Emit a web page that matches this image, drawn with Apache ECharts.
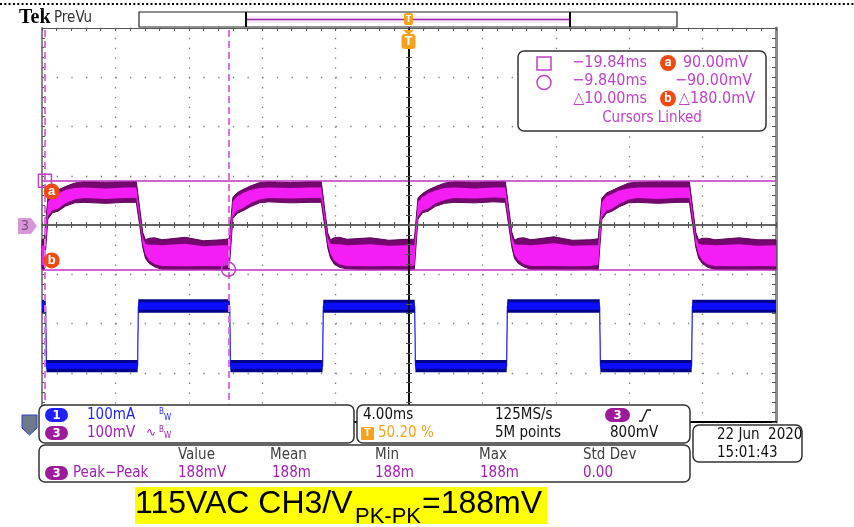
<!DOCTYPE html>
<html>
<head>
<meta charset="UTF-8" />
<title>115VAC CH3 ripple</title>
<script src="https://cdn.jsdelivr.net/npm/echarts@6/dist/echarts.min.js"></script>
<style>
  html, body { margin: 0; padding: 0; background: #fff; }
  #main { width: 854px; height: 527px; }
</style>
</head>
<body>
<div id="main"></div>
<script>
// time axis: 4 ms/div, 10 div
const timeMin = -20
const timeMax = 20

// CH3 (mV) envelope: outer = dark edge of the band, inner = bright core
const ch3Time = [
  -20,
  -19.88, -19.68, -19.43, -19.13, -18.73, -18.23, -17.73, -16.5, -15.5,
  -14.86, -14.66, -14.51, -14.36, -14.16, -13.86, -13.46, -12.2, -11.2, -10.2,
  -9.8, -9.6, -9.35, -9.05, -8.65, -8.15, -7.65, -6.45, -5.45,
  -4.78, -4.58, -4.43, -4.28, -4.08, -3.78, -3.38, -2.1, -1.1, -0.1,
  0.29, 0.49, 0.74, 1.04, 1.44, 1.94, 2.44, 3.6, 4.6,
  5.25, 5.45, 5.6, 5.75, 5.95, 6.25, 6.65, 7.9, 8.9, 9.9,
  10.31, 10.51, 10.76, 11.06, 11.46, 11.96, 12.46, 13.6, 14.6,
  15.28, 15.48, 15.63, 15.78, 15.98, 16.28, 16.68, 18.0, 19.0, 20.0
]
const ch3OuterHi = [
  -30,
  -28, 55, 65, 71, 78, 85, 88, 87, 88,
  88, 30, -15, -30, -27, -26, -30, -25, -32, -30,
  -28, 56, 66, 72, 79, 86, 88, 86, 88,
  88, 28, -16, -30, -26, -25, -29, -26, -31, -29,
  -29, 55, 64, 71, 78, 85, 88, 87, 88,
  88, 30, -14, -31, -27, -26, -30, -24, -31, -30,
  -28, 54, 65, 70, 77, 85, 87, 88, 88,
  88, 29, -15, -30, -27, -27, -30, -26, -30, -30
]
const ch3InnerHi = [
  -42,
  -41, 47, 58, 64, 71, 75, 76, 74, 76,
  76, 20, -25, -38, -40, -40, -41, -38, -43, -41,
  -41, 48, 58, 65, 71, 75, 76, 75, 76,
  76, 19, -26, -38, -39, -39, -41, -39, -42, -41,
  -41, 47, 57, 64, 70, 75, 76, 74, 76,
  76, 20, -24, -39, -40, -40, -41, -37, -42, -41,
  -41, 46, 58, 63, 70, 74, 76, 76, 76,
  76, 20, -25, -38, -40, -40, -41, -39, -42, -41
]
const ch3InnerLo = [
  -82,
  -81, 18, 30, 33, 44, 52, 55, 53, 55,
  55, 5, -38, -60, -72, -79, -83, -84, -83, -84,
  -81, 19, 30, 34, 44, 52, 55, 54, 55,
  55, 4, -39, -59, -72, -80, -83, -84, -83, -84,
  -82, 18, 30, 33, 44, 51, 55, 54, 56,
  55, 5, -37, -60, -71, -79, -83, -83, -84, -83,
  -81, 17, 29, 33, 43, 52, 55, 53, 55,
  55, 6, -38, -59, -72, -80, -83, -84, -83, -84
]
const ch3OuterLo = [
  -90,
  -91, 12, 25, 28, 38, 45, 46, 44, 46,
  46, -5, -45, -68, -78, -85, -90, -91, -90, -91,
  -91, 13, 24, 29, 37, 45, 47, 45, 46,
  46, -6, -46, -67, -79, -86, -89, -91, -90, -91,
  -90, 12, 25, 28, 38, 44, 46, 45, 47,
  46, -5, -44, -68, -78, -85, -90, -90, -91, -90,
  -91, 11, 24, 28, 37, 45, 46, 44, 46,
  46, -4, -45, -67, -78, -86, -90, -91, -90, -91
]

// CH1 (mA) square wave, band edges and the thin trace through the edges
const ch1Time = [-20, -19.8, -19.76, -14.79, -14.75, -9.77, -9.73, -4.71, -4.67, 0.31, 0.35, 5.32, 5.36, 10.39, 10.43, 15.4, 15.44, 20]
const ch1OuterHi = [248, 248, 126, 126, 249, 249, 126, 126, 248, 248, 126, 126, 249, 249, 126, 126, 248, 248]
const ch1InnerHi = [242, 242, 120, 120, 243, 243, 120, 120, 242, 242, 120, 120, 243, 243, 120, 120, 242, 242]
const ch1InnerLo = [228, 228, 108, 108, 228, 228, 108, 108, 228, 228, 108, 108, 228, 228, 108, 108, 228, 228]
const ch1OuterLo = [222, 222, 101, 101, 222, 222, 101, 101, 222, 222, 101, 101, 222, 222, 101, 101, 222, 222]
const ch1Trace = [235, 235, 114, 114, 235, 235, 114, 114, 235, 235, 114, 114, 235, 235, 114, 114, 235, 235]

// cursors
const cursorTimes = [-19.84, -9.84]
const cursorLevels = [90, -90]

const UI = '"Liberation Sans Narrow", "DejaVu Sans Condensed", Roboto, "DejaVu Sans", sans-serif'
const CAP = '"Liberation Sans", Arial, sans-serif'
const PURPLE = '#c040c8'

function bandPoints(api, ts, hi, lo) {
  let pts = []
  for (let i = 0; i < ts.length; i++) pts.push(api.coord([ts[i], hi[i]]))
  for (let i = ts.length - 1; i >= 0; i--) pts.push(api.coord([ts[i], lo[i]]))
  return pts
}

function txt(x, y, text, color, size, align, weight, family) {
  return {
    type: 'text', x: x, y: y, z: 120, silent: true,
    style: {
      text: text, fill: color,
      font: (weight || 'normal') + ' ' + size + 'px ' + (family || UI),
      textAlign: align || 'left', textVerticalAlign: 'middle'
    }
  }
}
function box(x, y, w, h) {
  return {
    type: 'rect', z: 110, silent: true,
    shape: { x: x, y: y, width: w, height: h, r: 6 },
    style: { fill: '#fff', stroke: '#333', lineWidth: 1.5 }
  }
}
function pill(x, y, w, h, label, color) {
  return [
    { type: 'rect', z: 115, silent: true, shape: { x: x, y: y, width: w, height: h, r: h / 2 }, style: { fill: color } },
    txt(x + w / 2, y + h / 2 + 0.5, label, '#fff', 13, 'center', 'bold')
  ]
}
function badge(cx, cy, label) {
  return [
    { type: 'circle', z: 115, silent: true, shape: { cx: cx, cy: cy, r: 8 }, style: { fill: '#f04a12' } },
    txt(cx, cy, label, '#fff', 13, 'center', 'bold', 'Roboto, sans-serif')
  ]
}

let graphics = [
  // dotted line at the very top
  { type: 'line', z: 100, silent: true, shape: { x1: 0, y1: 4, x2: 854, y2: 4 }, style: { stroke: '#000', lineWidth: 2, lineDash: [2, 2.3] } },
  txt(19, 18, 'Tek', '#000', 20, 'left', 'bold', '"Liberation Serif", "DejaVu Serif", serif'),
  txt(54, 18, 'PreVu', '#333', 15),
  // record bar
  { type: 'rect', z: 100, silent: true, shape: { x: 139, y: 12, width: 538, height: 15 }, style: { fill: '#fff', stroke: '#222', lineWidth: 1.2 } },
  { type: 'rect', z: 101, silent: true, shape: { x: 247, y: 16, width: 322, height: 7 }, style: { fill: '#f8ecf8' } },
  { type: 'line', z: 102, silent: true, shape: { x1: 247, y1: 19.5, x2: 569, y2: 19.5 }, style: { stroke: '#9a2aa8', lineWidth: 1.5 } },
  { type: 'line', z: 102, silent: true, shape: { x1: 246, y1: 12, x2: 246, y2: 27 }, style: { stroke: '#000', lineWidth: 2 } },
  { type: 'line', z: 102, silent: true, shape: { x1: 570, y1: 12, x2: 570, y2: 27 }, style: { stroke: '#000', lineWidth: 2 } },
  // trigger position markers
  { type: 'rect', z: 103, silent: true, shape: { x: 404, y: 13, width: 9, height: 12, r: 2 }, style: { fill: '#f6a21e' } },
  txt(408.5, 19.5, 'T', '#fff', 9, 'center', 'bold', 'Roboto, sans-serif'),
  { type: 'polygon', z: 103, silent: true, shape: { points: [[403, 30], [414, 30], [408.5, 35]] }, style: { fill: '#f6a21e' } },
  { type: 'rect', z: 103, silent: true, shape: { x: 401.5, y: 34, width: 14, height: 15, r: 3 }, style: { fill: '#f6a21e' } },
  txt(408.5, 42, 'T', '#fff', 13, 'center', 'bold', 'Roboto, sans-serif'),
  // channel markers
  { type: 'polygon', z: 103, silent: true, shape: { points: [[18, 218], [31, 218], [37, 226], [31, 234], [18, 234]] }, style: { fill: '#d597d5' } },
  txt(25, 226.5, '3', '#7a4a7a', 14, 'center'),
  { type: 'polygon', z: 125, silent: true, shape: { points: [[22, 415], [37, 415], [37, 428], [29.5, 435], [22, 428]] }, style: { fill: '#6d7a8b', stroke: '#3040c0', lineWidth: 1 } },
  txt(29.5, 423, '1', '#e8ecff', 13, 'center'),

  // cursor readout
  box(518, 51, 248, 80),
  { type: 'rect', z: 115, silent: true, shape: { x: 537, y: 57, width: 14, height: 13 }, style: { fill: 'none', stroke: PURPLE, lineWidth: 1.5 } },
  { type: 'circle', z: 115, silent: true, shape: { cx: 544, cy: 82.5, r: 7 }, style: { fill: 'none', stroke: PURPLE, lineWidth: 1.5 } },
  txt(647, 63, '\u221219.84ms', PURPLE, 16, 'right'),
  txt(748, 63, '90.00mV', PURPLE, 16, 'right'),
  txt(647, 81, '\u22129.840ms', PURPLE, 16, 'right'),
  txt(752, 81, '\u221290.00mV', PURPLE, 16, 'right'),
  txt(647, 98.5, '\u25b310.00ms', PURPLE, 16, 'right'),
  txt(755, 98.5, '\u25b3180.0mV', PURPLE, 16, 'right'),
  txt(652, 118, 'Cursors Linked', PURPLE, 15, 'center'),

  // channel / timebase panels
  box(39, 405, 315, 38),
  box(357, 405, 333, 38),
  box(39, 445, 651, 37),
  box(693, 425, 109, 37),
  txt(87, 415, '100mA', '#2424ff', 15),
  txt(159, 412, 'B', '#2424ff', 8),
  txt(164, 418, 'W', '#2424ff', 8),
  txt(87, 433, '100mV', '#a020b0', 15),
  txt(146, 433, '\u223f', '#a020b0', 12, 'left', 'normal', '"DejaVu Sans", sans-serif'),
  txt(159, 430, 'B', '#a020b0', 8),
  txt(164, 436, 'W', '#a020b0', 8),
  txt(363, 415, '4.00ms', '#111', 15),
  txt(495, 415, '125MS/s', '#111', 15),
  txt(495, 433, '5M points', '#111', 15),
  txt(610, 433, '800mV', '#111', 15),
  { type: 'polyline', z: 115, silent: true, shape: { points: [[639, 421], [642, 421], [647, 410], [651, 410]] }, style: { stroke: '#111', lineWidth: 1.3, fill: 'none' } },
  { type: 'rect', z: 115, silent: true, shape: { x: 361, y: 427, width: 13, height: 13, r: 1 }, style: { fill: '#f6a21e' } },
  txt(367.5, 433.5, 'T', '#fff', 11, 'center', 'bold', 'Roboto, sans-serif'),
  txt(378, 433, '50.20 %', '#f6a21e', 15),
  // measurement
  txt(178, 455, 'Value', '#404040', 15),
  txt(270, 455, 'Mean', '#404040', 15),
  txt(375, 455, 'Min', '#404040', 15),
  txt(479, 455, 'Max', '#404040', 15),
  txt(583, 455, 'Std Dev', '#404040', 15),
  txt(73, 473, 'Peak\u2212Peak', '#a020b0', 15),
  txt(178, 473, '188mV', '#a020b0', 15),
  txt(272, 473, '188m', '#a020b0', 15),
  txt(375, 473, '188m', '#a020b0', 15),
  txt(480, 473, '188m', '#a020b0', 15),
  txt(583, 473, '0.00', '#a020b0', 15),
  // date
  txt(717, 435, '22 Jun  2020', '#111', 15),
  txt(717, 453, '15:01:43', '#111', 15),

  // caption
  { type: 'rect', z: 100, silent: true, shape: { x: 135, y: 487, width: 412, height: 37 }, style: { fill: '#ffff00' } },
  txt(135, 504, '115VAC CH3/V', '#000', 32, 'left', 'normal', CAP),
  txt(355, 517, 'PK-PK', '#000', 22, 'left', 'normal', CAP),
  txt(422, 504, '=188mV', '#000', 32, 'left', 'normal', CAP)
]
graphics = graphics
  .concat(badge(668, 63, 'a'), badge(668, 98.5, 'b'))
  .concat(pill(45, 408, 23, 14, '1', '#1f1fff'), pill(45, 426, 23, 14, '3', '#9b1b9b'))
  .concat(pill(605, 408, 25, 14, '3', '#9b1b9b'), pill(45, 466, 23, 14, '3', '#9b1b9b'))

const divAxis = { type: 'value', min: -4, max: 4, interval: 1, axisLabel: { show: false } }
const tAxis = { type: 'value', min: timeMin, max: timeMax, interval: 4, axisLabel: { show: false } }
const tick = { show: true, inside: true, length: 3, lineStyle: { color: '#555', width: 1 } }
const minor = { show: true, splitNumber: 5, length: 3, lineStyle: { color: '#555', width: 1 } }

const option = {
  animation: false,
  backgroundColor: '#fff',
  grid: { left: 42, right: 78, top: 28, bottom: 105 },
  xAxis: [
    Object.assign({}, tAxis, { // bottom border + dotted verticals
      position: 'bottom',
      axisLine: { onZero: false, lineStyle: { color: '#000', width: 2 } },
      axisTick: { show: false },
      splitLine: { show: true, lineStyle: { color: '#7a7a7a', width: 1.3, type: [1.3, 8.55] } }
    }),
    Object.assign({}, tAxis, { // centre horizontal, ticks up
      position: 'bottom', z: 10,
      axisLine: { onZero: true, onZeroAxisIndex: 0, lineStyle: { color: '#5a5a5a', width: 1.5 } },
      axisTick: tick, minorTick: minor, splitLine: { show: false }
    }),
    Object.assign({}, tAxis, { // centre horizontal, ticks down
      position: 'bottom', z: 10,
      axisLine: { onZero: true, onZeroAxisIndex: 0, lineStyle: { color: '#5a5a5a', width: 1.5 } },
      axisTick: Object.assign({}, tick, { inside: false }), minorTick: minor, splitLine: { show: false }
    }),
    Object.assign({}, tAxis, { // top border
      position: 'top',
      axisLine: { onZero: false, lineStyle: { color: '#555', width: 1 } },
      axisTick: tick, minorTick: minor, splitLine: { show: false }
    })
  ],
  yAxis: [
    Object.assign({}, divAxis, { // left border + dotted horizontals
      position: 'left',
      axisLine: { onZero: false, lineStyle: { color: '#888', width: 2 } },
      axisTick: tick, minorTick: minor,
      splitLine: { show: true, lineStyle: { color: '#7a7a7a', width: 1.3, type: [1.3, 13.38] } }
    }),
    Object.assign({}, divAxis, { // right border
      position: 'right',
      axisLine: { onZero: false, lineStyle: { color: '#8a8a8a', width: 3 } },
      axisTick: Object.assign({}, tick, { length: 4 }), minorTick: Object.assign({}, minor, { length: 4 }),
      splitLine: { show: false }
    }),
    Object.assign({}, divAxis, { // centre vertical, ticks right
      position: 'left', z: 10,
      axisLine: { onZero: true, onZeroAxisIndex: 0, lineStyle: { color: '#000', width: 1.5 } },
      axisTick: tick, minorTick: minor, splitLine: { show: false }
    }),
    Object.assign({}, divAxis, { // centre vertical, ticks left
      position: 'right', z: 10,
      axisLine: { onZero: true, onZeroAxisIndex: 0, lineStyle: { color: '#000', width: 1.5 } },
      axisTick: tick, minorTick: minor, splitLine: { show: false }
    }),
    { type: 'value', min: -400, max: 400, show: false }, // CH3 100mV/div
    { type: 'value', min: 0, max: 800, show: false }     // CH1 100mA/div
  ],
  series: [
    {
      name: 'CH1 band', type: 'custom', xAxisIndex: 0, yAxisIndex: 5, silent: true, z: 3,
      data: [[0, 0]],
      renderItem: function (params, api) {
        return {
          type: 'group', children: [
            { type: 'polygon', shape: { points: bandPoints(api, ch1Time, ch1OuterHi, ch1OuterLo) }, style: { fill: '#00008c' } },
            { type: 'polygon', shape: { points: bandPoints(api, ch1Time, ch1InnerHi, ch1InnerLo) }, style: { fill: '#0c0cff' } }
          ]
        }
      }
    },
    {
      name: 'CH1', type: 'line', xAxisIndex: 0, yAxisIndex: 5, silent: true, z: 2,
      showSymbol: false, symbol: 'none',
      lineStyle: { color: '#3a3aff', width: 1.3 },
      data: ch1Time.map((t, i) => [t, ch1Trace[i]])
    },
    {
      name: 'CH3 band', type: 'custom', xAxisIndex: 0, yAxisIndex: 4, silent: true, z: 3,
      data: [[0, 0]],
      renderItem: function (params, api) {
        return {
          type: 'group', children: [
            { type: 'polygon', shape: { points: bandPoints(api, ch3Time, ch3OuterHi, ch3OuterLo) }, style: { fill: '#74086f', stroke: '#5a0457', lineWidth: 1 } },
            { type: 'polygon', shape: { points: bandPoints(api, ch3Time, ch3InnerHi, ch3InnerLo) }, style: { fill: '#f41ef4' } }
          ]
        }
      }
    },
    {
      name: 'cursors', type: 'line', xAxisIndex: 0, yAxisIndex: 4, silent: true, z: 4,
      symbol: 'none', lineStyle: { opacity: 0 },
      data: [[timeMin, 0]],
      markLine: {
        symbol: ['none', 'none'], silent: true, animation: false,
        label: { show: false },
        data: [
          { xAxis: cursorTimes[0], lineStyle: { color: '#e070e0', type: [7, 4], width: 2 } },
          { xAxis: cursorTimes[1], lineStyle: { color: '#e070e0', type: [7, 4], width: 2 } },
          { yAxis: cursorLevels[0], lineStyle: { color: '#c030c0', type: 'solid', width: 1.5 } },
          { yAxis: cursorLevels[1], lineStyle: { color: '#c030c0', type: 'solid', width: 1.5 } }
        ]
      },
      markPoint: {
        silent: true, animation: false,
        data: [
          { coord: [cursorTimes[0], cursorLevels[0]], symbol: 'rect', symbolSize: 13, itemStyle: { color: 'transparent', borderColor: PURPLE, borderWidth: 1.5 }, label: { show: false } },
          { coord: [cursorTimes[1], cursorLevels[1]], symbol: 'circle', symbolSize: 14, itemStyle: { color: 'transparent', borderColor: PURPLE, borderWidth: 1.5 }, label: { show: false } },
          { coord: [-19.47, 68], symbol: 'circle', symbolSize: 16, itemStyle: { color: '#f04a12' }, label: { show: true, formatter: 'a', color: '#fff', fontWeight: 'bold', fontSize: 13 } },
          { coord: [-19.47, -72], symbol: 'circle', symbolSize: 16, itemStyle: { color: '#f04a12' }, label: { show: true, formatter: 'b', color: '#fff', fontWeight: 'bold', fontSize: 13 } }
        ]
      }
    }
  ],
  graphic: { elements: graphics }
}

const myChart = echarts.init(document.getElementById('main'))
myChart.setOption(option)
</script>
</body>
</html>
